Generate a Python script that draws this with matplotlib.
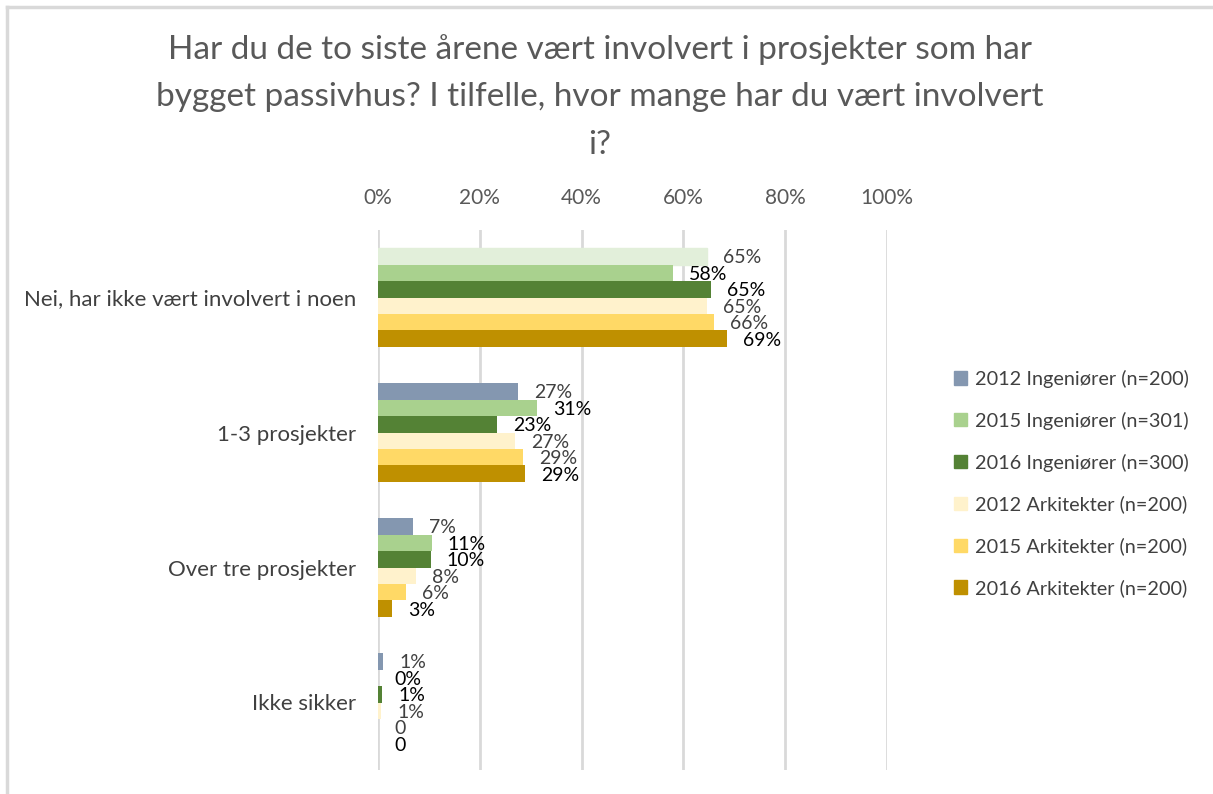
import numpy as np
import matplotlib.pyplot as plt
from matplotlib.lines import Line2D

# ========================
# DATA
# ========================
categories = ["Nei, har ikke vært involvert i noen", "1-3 prosjekter",
              "Over tre prosjekter", "Ikke sikker"]
series = ["2012 Ingeniører (n=200)", "2015 Ingeniører (n=301)", "2016 Ingeniører (n=300)",
          "2012 Arkitekter (n=200)", "2015 Arkitekter (n=200)", "2016 Arkitekter (n=200)"]

ing_2012 = [0.646, 0.275, 0.069, 0.010]
ing_2015 = [0.580, 0.312, 0.106, 0.000]
ing_2016 = [0.654, 0.234, 0.104, 0.008]
ark_2012 = [0.646, 0.270, 0.075, 0.006]
ark_2015 = [0.660, 0.285, 0.055, 0.000]
ark_2016 = [0.686, 0.289, 0.028, 0.000]
values = [ing_2012, ing_2015, ing_2016, ark_2012, ark_2015, ark_2016]

labels = [["65%", "27%", "7%", "1%"],
          ["58%", "31%", "11%", "0%"],
          ["65%", "23%", "10%", "1%"],
          ["65%", "27%", "8%", "1%"],
          ["66%", "29%", "6%", "0"],
          ["69%", "29%", "3%", "0"]]

colors = ["#8497b0", "#a9d18e", "#548235", "#fff2cc", "#ffd966", "#bf9000"]
label_colors = ["#404040", "black", "black", "#404040", "#404040", "black"]

title = ("Har du de to siste årene vært involvert i prosjekter som har\n"
         "bygget passivhus? I tilfelle, hvor mange har du vært involvert\n"
         "i?")

# ========================
# PLOT
# ========================
plt.rcParams["font.family"] = ["Lato", "DejaVu Sans"]
W, H = 1213, 794
fig = plt.figure(figsize=(W / 100, H / 100), dpi=100)
ax = fig.add_axes([378 / W, 1 - 770 / H, 509 / W, 540 / H])

y = np.arange(len(categories))
h = 0.122
for i, vals in enumerate(values):
    pos = y + (i - 2.5) * h
    bars = ax.barh(pos, vals, height=h, color=colors[i], zorder=3)
    if i == 0:
        bars[0].set_color("#e2efda")  # odd first bar in the original
    for p, v, lab in zip(pos, vals, labels[i]):
        ax.annotate(lab, (v, p), xytext=(11.5, -1), textcoords="offset points",
                    va="center", ha="left", fontsize=14, color=label_colors[i])

ax.set_xlim(0, 1)
ax.set_ylim(len(categories) - 0.5, -0.5)
ax.set_xticks(np.arange(0, 1.01, 0.2))
ax.set_xticklabels([f"{int(round(t * 100))}%" for t in np.arange(0, 1.01, 0.2)])
ax.xaxis.tick_top()
ax.tick_params(axis="x", length=0, pad=15.5, labelsize=15, labelcolor="#595959")
ax.set_yticks(y)
ax.set_yticklabels(categories)
ax.tick_params(axis="y", length=0, pad=16, labelsize=16, labelcolor="#404040")
ax.grid(axis="x", color="#d9d9d9", linewidth=2, zorder=0)
for s in ax.spines.values():
    s.set_visible(False)

fig.text(600 / W, 1 - 34 / H, title, ha="center", va="top", fontsize=24,
         color="#595959", linespacing=1.72)

handles = [plt.Rectangle((0, 0), 1, 1, color=c) for c in colors]
fig.legend(handles, series, loc="upper left", bbox_to_anchor=(936 / W, 1 - 352 / H),
           frameon=False, fontsize=14.3, labelcolor="#404040", handlelength=0.65,
           handleheight=0.65, handletextpad=0.4, labelspacing=1.2)

# chart frame
fig.add_artist(Line2D([7 / W, 7 / W], [0, 1 - 7 / H], color="#d9d9d9", linewidth=2.5))
fig.add_artist(Line2D([7 / W, 1], [1 - 7 / H, 1 - 7 / H], color="#d9d9d9", linewidth=2.5))

fig.savefig("out.png", dpi=100)
